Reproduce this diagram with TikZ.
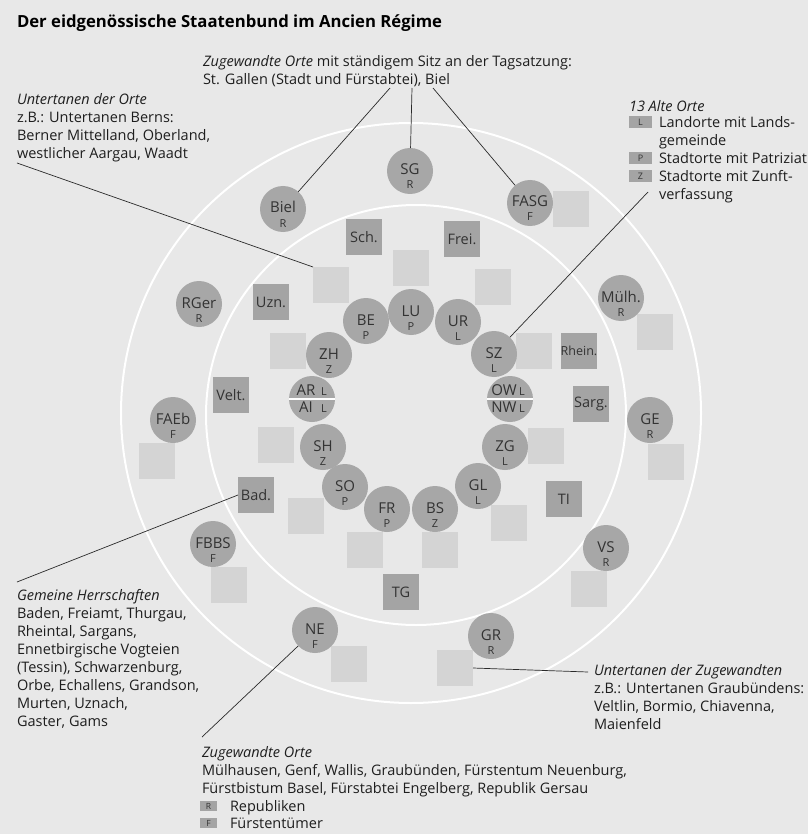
\documentclass[tikz,border=0pt]{standalone}
\usepackage{fontspec}
\setmainfont{Open Sans}
\usetikzlibrary{calc}
\definecolor{bg}{HTML}{E8E8E8}
\definecolor{circfill}{HTML}{A7A7A7}
\definecolor{sqfill}{HTML}{A4A4A4}
\definecolor{lsqfill}{HTML}{D4D4D4}
\definecolor{labcol}{HTML}{333333}
\definecolor{txtcol}{HTML}{1E1E1E}
\definecolor{linecol}{HTML}{2A2A2A}
\newcommand\blk[1]{\begin{tabular}[t]{@{}l@{}}#1\end{tabular}}
\newcommand\ortnode[4]{%
  \node[ortc] (#1) at (#2) {};
  \node[mainlab] (#1-m) at ($(#1.center)+(0,4)$) {#3};
  \node[sublab] (#1-s) at ($(#1.center)+(0,18)$) {#4};
}
\newcommand\splitnode[6]{% name, pos, top, topsub, bottom, bottomsub
  \node[ortc] (#1) at (#2) {};
  \draw[white, line width=1.5pt] (#1.west) -- (#1.east);
  \node[mainlab] (#1-a) at ($(#1.center)+(-6,-4)$) {#3};
  \node[sublab, font=\fontsize{11}{12}\selectfont] (#1-as) at ($(#1.center)+(12,-4)$) {#4};
  \node[mainlab] (#1-b) at ($(#1.center)+(-6,13)$) {#5};
  \node[sublab, font=\fontsize{11}{12}\selectfont] (#1-bs) at ($(#1.center)+(12,13)$) {#6};
}
\begin{document}
\begin{tikzpicture}[x=1pt,y=-1pt,
  every node/.style={inner sep=0pt, outer sep=0pt},
  txt/.style={anchor=base west, font=\fontsize{14.5}{18}\selectfont, text=txtcol},
  ortc/.style={circle, fill=circfill, minimum size=46pt},
  mainlab/.style={anchor=base, font=\fontsize{15}{16}\selectfont, text=labcol},
  sublab/.style={anchor=base, font=\fontsize{11}{12}\selectfont, text=labcol},
  dsq/.style={rectangle, fill=sqfill, minimum size=36pt, font=\fontsize{14.5}{16}\selectfont, text=labcol},
  lsq/.style={rectangle, fill=lsqfill, minimum size=36pt},
  conn/.style={draw=linecol, line width=0.7pt},
  ringline/.style={draw=white, line width=2pt},
  legbox/.style={rectangle, fill=sqfill, minimum width=23pt, minimum height=12pt, font=\fontsize{9}{10}\selectfont, text=labcol},
  legboxs/.style={rectangle, fill=sqfill, minimum width=17pt, minimum height=10pt, font=\fontsize{8.5}{10}\selectfont, text=labcol},
]
\fill[bg] (0,0) rectangle (808,834);
\useasboundingbox (0,0) rectangle (808,834);

% white rings
\draw[ringline] (411,413) circle[radius=290];
\draw[ringline] (416,415) circle[radius=210];

% light squares (Untertanen)
\node[lsq] (l1) at (331,285) {};
\node[lsq] (l2) at (411,268) {};
\node[lsq] (l3) at (571,209) {};
\node[lsq] (l4) at (493,287) {};
\node[lsq] (l5) at (288,351) {};
\node[lsq] (l6) at (157,461) {};
\node[lsq] (l7) at (276,445) {};
\node[lsq] (l8) at (306,516) {};
\node[lsq] (l9) at (365,550) {};
\node[lsq] (l10) at (534,351) {};
\node[lsq] (l11) at (655,332) {};
\node[lsq] (l12) at (546,446) {};
\node[lsq] (l13) at (666,462) {};
\node[lsq] (l14) at (509,523) {};
\node[lsq] (l15) at (440,550) {};
\node[lsq] (l16) at (229,585) {};
\node[lsq] (l17) at (349,664) {};
\node[lsq] (l18) at (589,589) {};
\node[lsq] (l19) at (455,668) {};

% dark squares (Gemeine Herrschaften)
\node[dsq] (sch) at (364,237) {Sch.};
\node[dsq] (frei) at (462,239) {Frei.};
\node[dsq] (uzn) at (271,302) {Uzn.};
\node[dsq] (velt) at (231,395) {Velt.};
\node[dsq] (bad) at (256,495) {Bad.};
\node[dsq, font=\fontsize{12.5}{14}\selectfont] (rhein) at (579,351) {Rhein.};
\node[dsq] (sarg) at (591,404) {Sarg.};
\node[dsq] (ti) at (564,499) {TI};
\node[dsq] (tg) at (401,592) {TG};

% 13 Alte Orte ring
\ortnode{lu}{411,312}{LU}{P}
\ortnode{be}{366,321}{BE}{P}
\ortnode{ur}{458,322}{UR}{L}
\ortnode{zh}{329,355}{ZH}{Z}
\ortnode{sz}{494,354}{SZ}{L}
\splitnode{ar}{312,399}{AR}{L}{AI}{L}
\splitnode{ow}{510,399}{OW}{L}{NW}{L}
\ortnode{sh}{323,447}{SH}{Z}
\ortnode{zg}{505,447}{ZG}{L}
\ortnode{so}{345,487}{SO}{P}
\ortnode{gl}{478,486}{GL}{L}
\ortnode{fr}{387,509}{FR}{P}
\ortnode{bs}{435,509}{BS}{Z}

% Zugewandte Orte
\ortnode{sg}{410,171}{SG}{R}
\ortnode{biel}{283,209}{Biel}{R}
\ortnode{fasg}{530,203}{FASG}{F}
\ortnode{rger}{199,304}{RGer}{R}
\ortnode{faeb}{173,420}{FAEb}{F}
\ortnode{fbbs}{213,544}{FBBS}{F}
\ortnode{muehl}{621,298}{Mülh.}{R}
\ortnode{ge}{650,420}{GE}{R}
\ortnode{vs}{606,548}{VS}{R}
\ortnode{gr}{491,636}{GR}{R}
\ortnode{ne}{315,630}{NE}{F}

% texts
\node[anchor=base west, font=\fontsize{16.7}{20}\selectfont\bfseries, text=black] (title) at (17,28) {Der eidgenössische Staatenbund im Ancien Régime};
\node[txt] (zugtop) at (203,67) {\blk{\textit{Zugewandte Orte} mit ständigem Sitz an der Tagsatzung:\\St. Gallen (Stadt und Fürstabtei), Biel}};
\node[txt] (untorte) at (17,105) {\blk{\textit{Untertanen der Orte}\\z.B.: Untertanen Berns:\\Berner Mittelland, Oberland,\\westlicher Aargau, Waadt}};
\node[txt] (alte) at (629,112) {\textit{13 Alte Orte}};
\node[txt] (altelist) at (659,128) {\blk{Landorte mit Lands-\\gemeinde\\Stadtorte mit Patriziat\\Stadtorte mit Zunft-\\verfassung}};
\node[legbox] (legL) at (640.5,122.5) {L};
\node[legbox] (legP) at (640.5,158.5) {P};
\node[legbox] (legZ) at (640.5,176.5) {Z};
\node[txt] (gemeine) at (17,600) {\blk{\textit{Gemeine Herrschaften}\\Baden, Freiamt, Thurgau,\\Rheintal, Sargans,\\Ennetbirgische Vogteien\\(Tessin), Schwarzenburg,\\Orbe, Echallens, Grandson,\\Murten, Uznach,\\Gaster, Gams}};
\node[txt] (zugbot) at (202,757) {\blk{\textit{Zugewandte Orte}\\Mülhausen, Genf, Wallis, Graubünden, Fürstentum Neuenburg,\\Fürstbistum Basel, Fürstabtei Engelberg, Republik Gersau}};
\node[legboxs] (legR) at (208.5,806) {R};
\node[txt] (repub) at (230,811) {Republiken};
\node[legboxs] (legF) at (208.5,823) {F};
\node[txt] (fuerst) at (230,828) {Fürstentümer};
\node[txt] (untzug) at (594,675) {\blk{\textit{Untertanen der Zugewandten}\\z.B.: Untertanen Graubündens:\\Veltlin, Bormio, Chiavenna,\\Maienfeld}};

% connector end points
\coordinate (cUO) at (17,163);
\coordinate (cBiel) at (390,88);
\coordinate (cSG) at (412,88);
\coordinate (cFASG) at (433,88);
\coordinate (cSZ) at (648,192);
\coordinate (cBad) at (17,582);
\coordinate (cNE) at (202,737);
\coordinate (cGR) at (588,672);

\draw[conn] (cUO) -- (l1.north west);
\draw[conn] (biel) -- (cBiel);
\draw[conn] (sg) -- (cSG);
\draw[conn] (fasg) -- (cFASG);
\draw[conn] (sz) -- (cSZ);
\draw[conn] (bad.west) -- (cBad);
\draw[conn] (ne) -- (cNE);
\draw[conn] (l19.east) -- (cGR);
\end{tikzpicture}
\end{document}
